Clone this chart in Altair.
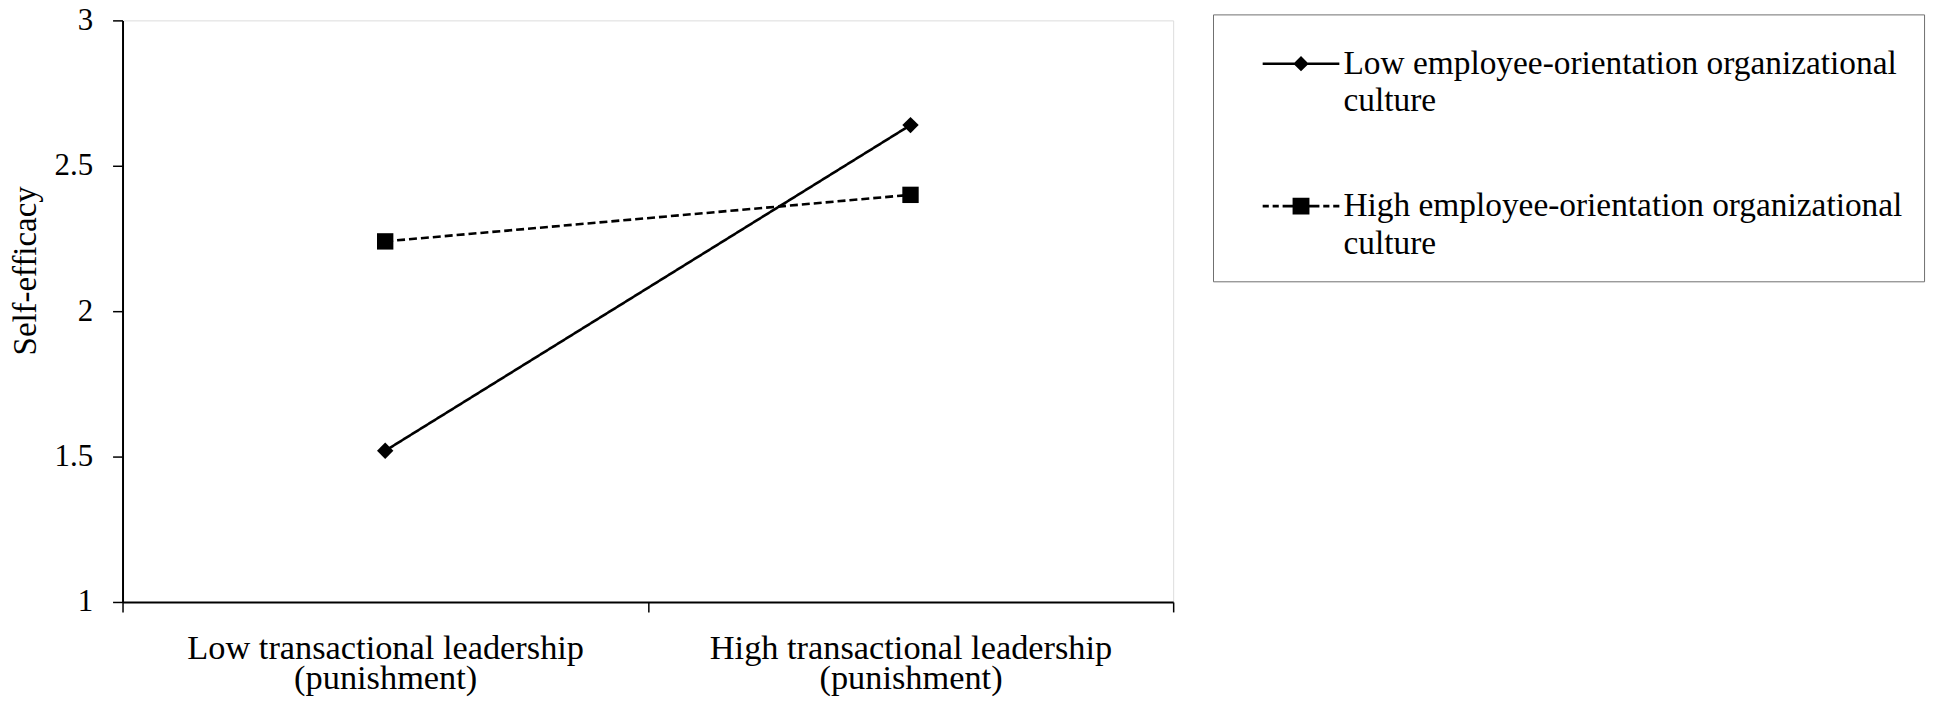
import altair as alt
import pandas as pd

# ---- data ----
categories = ["Low transactional leadership", "High transactional leadership"]
category_second_line = "(punishment)"
series = ["Low employee-orientation organizational culture",
          "High employee-orientation organizational culture"]
low_culture_values = [1.52, 2.64]
high_culture_values = [2.24, 2.40]
y_tick_values = [1, 1.5, 2, 2.5, 3]
legend_wrap_word = "culture"

rows = []
for s, vals in zip(series, [low_culture_values, high_culture_values]):
    for c, v in zip(categories, vals):
        rows.append({"leadership": c, "culture": s, "efficacy": v, "legend_culture": s})
df = pd.DataFrame(rows)

FONT = "Liberation Serif"


# legend symbols (line + marker) as filled custom symbol paths
def _rect(x0, x1, yc, h):
    return f"M{x0},{yc - h}H{x1}V{yc + h}H{x0}Z"


_yc = -0.26
_cx = 0.75
solid_symbol = (
    _rect(-0.25, 1.75, _yc, 0.034)
    + f"M{_cx - 0.2},{_yc}L{_cx},{_yc - 0.2}L{_cx + 0.2},{_yc}L{_cx},{_yc + 0.2}Z"
)
dash_segments = [(-0.25, -0.09), (0.01, 0.17), (0.27, 0.53),
                 (0.97, 1.23), (1.33, 1.49), (1.59, 1.75)]
dashed_symbol = "".join(_rect(a, b, _yc, 0.038) for a, b in dash_segments) + _rect(
    _cx - 0.22, _cx + 0.22, _yc, 0.22
)
legend_symbol_paths = [solid_symbol, dashed_symbol]

cat_list = "[" + ",".join(f"'{c}'" for c in categories) + "]"

x_enc = alt.X(
    "leadership:N",
    sort=categories,
    bandPosition=0.5,
    scale=alt.Scale(type="band", paddingInner=0, paddingOuter=0, domain=categories),
    axis=alt.Axis(
        title=None,
        labelAngle=0,
        labelExpr=f"indexof({cat_list}, datum.label) >= 0 ? [datum.label, '{category_second_line}'] : ''",
        tickBand="extent",
        labelFont=FONT,
        labelFontSize=34.5,
        labelColor="black",
        labelPadding=20,
        labelLineHeight=30,
        labelBaseline="top",
        labelLimit=1000,
        labelOverlap=False,
        tickSize=10,
        tickColor="black",
        tickWidth=1.5,
        domainColor="black",
        domainWidth=2,
    ),
)

y_enc = alt.Y(
    "efficacy:Q",
    scale=alt.Scale(domain=[1, 3], nice=False, zero=False),
    axis=alt.Axis(
        values=y_tick_values,
        format="~g",
        title="Self-efficacy",
        titleFont=FONT,
        titleFontSize=33,
        titleFontWeight="normal",
        titleColor="black",
        titleAngle=-90,
        titleAlign="center",
        titleBaseline="middle",
        titleX=-97,
        titleY=251,
        grid=False,
        labelFont=FONT,
        labelFontSize=31,
        labelColor="black",
        labelPadding=20,
        tickSize=10,
        tickColor="black",
        tickWidth=1.5,
        domainColor="black",
        domainWidth=2,
    ),
)

base = alt.Chart(df)

lines = base.mark_line(color="black", strokeWidth=2.6).encode(
    x=x_enc,
    y=y_enc,
    detail="culture:N",
    strokeDash=alt.StrokeDash(
        "culture:N",
        scale=alt.Scale(domain=series, range=[[1, 0], [8, 4]]),
        legend=None,
    ),
)

points = base.mark_point(filled=True, color="black", opacity=1, size=270).encode(
    x=x_enc,
    y=y_enc,
    shape=alt.Shape(
        "culture:N",
        scale=alt.Scale(domain=series, range=["diamond", "square"]),
        legend=None,
    ),
)

legend_layer = base.mark_point(filled=True, color="black", opacity=0).encode(
    x=x_enc,
    y=y_enc,
    shape=alt.Shape(
        "legend_culture:N",
        scale=alt.Scale(domain=series, range=legend_symbol_paths),
        legend=alt.Legend(
            title=None,
            orient="none",
            legendX=1095,
            legendY=-6,
            direction="vertical",
            padding=21,
            strokeColor="#6f6f6f",
            symbolSize=5929,
            symbolOpacity=1,
            symbolFillColor="black",
            symbolStrokeColor="black",
            symbolStrokeWidth=0,
            labelExpr=f"[replace(datum.label, ' {legend_wrap_word}', ''), '{legend_wrap_word}']",
            labelFont=FONT,
            labelFontSize=33.5,
            labelColor="black",
            labelLimit=2000,
            labelOffset=33,
            labelBaseline="alphabetic",
            rowPadding=60,
        ),
    ),
)

chart = (
    alt.layer(lines, points, legend_layer)
    .resolve_scale(shape="independent")
    .properties(
        width=1055,
        height=584,
        autosize=alt.AutoSizeParams(type="none"),
        padding={"left": 115, "top": 11, "right": 768, "bottom": 97},
        background="white",
    )
    .configure_view(stroke="#8c8c8c", strokeWidth=2)
    .configure(style={"guide-label": {"lineHeight": 38}})
)

chart.save("out.html", embed_options={"renderer": "svg", "actions": False})
